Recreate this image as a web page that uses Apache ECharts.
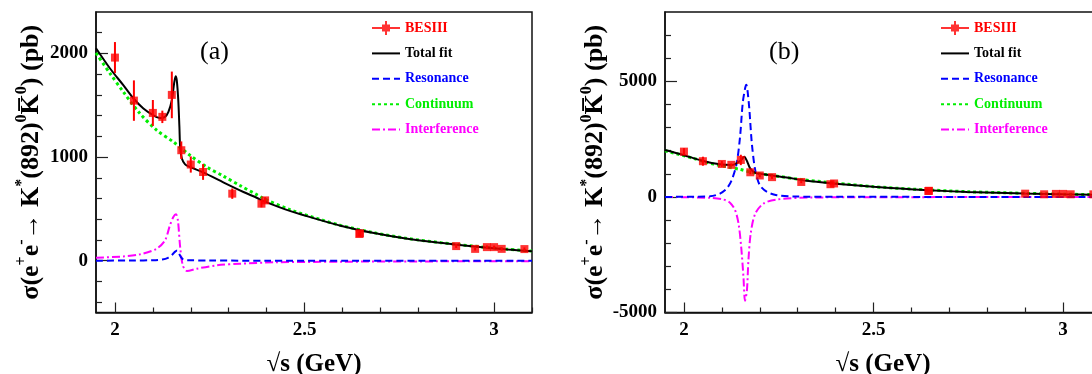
<!DOCTYPE html>
<html>
<head>
<meta charset="utf-8">
<script src="https://cdn.jsdelivr.net/npm/echarts@6/dist/echarts.min.js"></script>
<style>
  html, body { margin: 0; padding: 0; background: #fff; }
  #chart { width: 1092px; height: 374px; }
</style>
</head>
<body>
<div id="chart"></div>
<script>
// BESIII measured points (shared by both panels)
const besX = [2.0, 2.05, 2.1, 2.125, 2.15, 2.175, 2.2, 2.2324, 2.3094, 2.3864, 2.396, 2.6444, 2.6464, 2.9, 2.95, 2.981, 3.0, 3.02, 3.08];
const besY = [1960, 1545, 1426, 1388, 1600, 1066, 928, 856, 647, 550, 582, 258, 264, 141, 114, 131, 131, 114, 112];
const besErr = [150, 195, 125, 60, 225, 85, 78, 76, 50, 35, 30, 22, 22, 18, 16, 16, 15, 16, 16];

// panel (a) curves, [sqrt(s), sigma]
const totalA = [[1.95, 2050], [1.987, 1855], [2.022, 1694], [2.049, 1565], [2.075, 1469], [2.101, 1404], [2.119, 1378], [2.132, 1388], [2.141, 1436], [2.15, 1549], [2.156, 1710], [2.16, 1781], [2.163, 1742], [2.167, 1549], [2.17, 1291], [2.172, 1098], [2.1765, 986], [2.185, 930], [2.198, 904], [2.234, 850], [2.287, 754], [2.339, 663], [2.375, 605], [2.392, 575], [2.463, 478], [2.551, 382], [2.595, 338], [2.683, 267], [2.771, 212], [2.859, 172], [2.947, 138], [3.035, 109], [3.1, 92]];
const contA = [[1.95, 2005], [1.987, 1807], [2.022, 1629], [2.066, 1420], [2.11, 1259], [2.154, 1146], [2.198, 1017], [2.242, 904], [2.287, 814], [2.33, 725], [2.375, 635], [2.392, 600], [2.463, 490], [2.551, 387], [2.595, 341], [2.683, 270], [2.771, 215], [2.859, 174], [2.947, 140], [3.035, 110], [3.1, 93]];
const resA = [[1.95, 0], [2.05, 2], [2.1, 5], [2.125, 12], [2.14, 28], [2.15, 55], [2.158, 85], [2.164, 98], [2.169, 70], [2.174, 35], [2.18, 12], [2.19, 5], [2.25, 2], [2.4, 0], [3.1, 0]];
const intfA = [[1.95, 29], [2.022, 41], [2.066, 61], [2.11, 116], [2.132, 196], [2.145, 341], [2.154, 421], [2.161, 447], [2.166, 389], [2.172, 131], [2.179, -45], [2.19, -100], [2.216, -77], [2.269, -45], [2.33, -29], [2.419, -16], [2.595, -10], [2.8, -7], [3.1, -5]];

// panel (b) curves
const totalB = [[1.95, 2030], [1.998, 1813], [2.051, 1552], [2.095, 1409], [2.126, 1378], [2.148, 1552], [2.159, 1739], [2.167, 1522], [2.1745, 1235], [2.188, 1040], [2.219, 960], [2.271, 843], [2.324, 696], [2.4, 575], [2.5, 440], [2.57, 365], [2.645, 291], [2.747, 217], [2.9, 148], [3.0, 115], [3.1, 90]];
const contB = [[1.95, 2000], [2.025, 1670], [2.069, 1452], [2.113, 1304], [2.148, 1191], [2.183, 1043], [2.227, 943], [2.307, 757], [2.4, 600], [2.5, 445], [2.6, 340], [2.75, 225], [2.9, 155], [3.0, 120], [3.1, 93]];
const resB = [[1.95, 0], [2.03, 10], [2.069, 25], [2.095, 145], [2.113, 365], [2.126, 726], [2.139, 1452], [2.148, 2609], [2.155, 4061], [2.1613, 4700], [2.1645, 4850], [2.1673, 4650], [2.1726, 3770], [2.179, 2322], [2.188, 1161], [2.2, 509], [2.219, 217], [2.245, 74], [2.29, 20], [2.4, 5], [3.1, 0]];
const intfB = [[1.95, 0], [2.069, -40], [2.104, -113], [2.122, -261], [2.135, -578], [2.144, -1157], [2.151, -2174], [2.157, -3478], [2.161, -4491], [2.166, -4057], [2.17, -2752], [2.176, -1591], [2.188, -722], [2.21, -287], [2.245, -113], [2.333, -26], [2.6, -10], [3.1, -5]];

// axis ticks
const xMajor = [2, 2.5, 3];
const xMinor = [2.1, 2.2, 2.3, 2.4, 2.6, 2.7, 2.8, 2.9, 3.1];
const yMajorA = [0, 1000, 2000];
const yMinorA = [-400, -200, 200, 400, 600, 800, 1200, 1400, 1600, 1800, 2200];
const yMajorB = [-5000, 0, 5000];
const yMinorB = [-4000, -3000, -2000, -1000, 1000, 2000, 3000, 4000, 6000, 7000];

const legendNames = ['BESIII', 'Total fit', 'Resonance', 'Continuum', 'Interference'];
const legendColors = ['#ff0000', '#000000', '#0000ff', '#00ee00', '#ff00ff'];

const FONT = "'Liberation Serif', 'DejaVu Serif', serif";
const chart = echarts.init(document.getElementById('chart'));

const grids = [
  { left: 96, top: 12, width: 436, height: 300.5 },
  { left: 665, top: 12, width: 436, height: 300.5 }
];

const tickLabel = { fontFamily: FONT, fontWeight: 'bold', fontSize: 19, color: '#000', formatter: v => String(v) };
const tickLine = { color: '#222', width: 1.2 };

function xAxes(gi) {
  const base = {
    gridIndex: gi, type: 'value', min: 1.95, max: 3.1, position: 'bottom',
    splitLine: { show: false }
  };
  return [
    Object.assign({}, base, {
      name: '√s (GeV)', nameLocation: 'middle', nameGap: 40,
      nameTextStyle: { fontFamily: FONT, fontWeight: 'bold', fontSize: 25, color: '#000' },
      axisLine: { show: true, onZero: false, lineStyle: { color: '#111', width: 1.5 } },
      axisTick: { show: true, inside: true, length: 10, customValues: xMajor, lineStyle: tickLine },
      axisLabel: Object.assign({ customValues: xMajor, margin: 8 }, tickLabel)
    }),
    Object.assign({}, base, {
      axisLine: { show: false, onZero: false },
      axisTick: { show: true, inside: true, length: 5, customValues: xMinor, lineStyle: tickLine },
      axisLabel: { show: false }
    })
  ];
}

const yTitle = '{m|σ(e}{s|+}{m|e}{s|-}{m|→ K}{s|*}{m|(892)}{s|0}{m|K\u0305}{s|0}{m|) (pb)}';
const yRich = {
  m: { fontFamily: FONT, fontWeight: 'bold', fontSize: 26, lineHeight: 34, color: '#000' },
  s: { fontFamily: FONT, fontWeight: 'bold', fontSize: 16, lineHeight: 18, verticalAlign: 'top', color: '#000' }
};

function yAxes(gi, min, max, major, minor, gap) {
  const base = {
    gridIndex: gi, type: 'value', min: min, max: max, position: 'left',
    splitLine: { show: false }
  };
  return [
    Object.assign({}, base, {
      name: yTitle, nameLocation: 'middle', nameRotate: 90, nameGap: gap,
      nameTextStyle: { rich: yRich },
      axisLine: { show: true, onZero: false, lineStyle: { color: '#111', width: 1.5 } },
      axisTick: { show: true, inside: true, length: 12, customValues: major, lineStyle: tickLine },
      axisLabel: Object.assign({ customValues: major, margin: 8 }, tickLabel)
    }),
    Object.assign({}, base, {
      axisLine: { show: false, onZero: false },
      axisTick: { show: true, inside: true, length: 6, customValues: minor, lineStyle: tickLine },
      axisLabel: { show: false }
    })
  ];
}

const besData = besX.map((x, i) => [x, besY[i], besErr[i]]);

function panelSeries(gi, total, cont, res, intf) {
  const xi = gi * 2, yi = gi * 2;
  const line = (name, data, color, type, width, z) => ({
    name: name, type: 'line', xAxisIndex: xi, yAxisIndex: yi, data: data,
    symbol: 'none', smooth: 0.3, z: z,
    lineStyle: { color: color, type: type, width: width },
    itemStyle: { color: color }
  });
  return [
    line('Interference', intf, '#ff00ff', [8, 3, 2, 3], 2, 3),
    line('Resonance', res, '#0000ff', [7, 4], 2, 4),
    line('Continuum', cont, '#00ee00', [3, 3], 3, 5),
    line('Total fit', total, '#000000', 'solid', 2, 6),
    {
      type: 'custom', xAxisIndex: xi, yAxisIndex: yi, data: besData, z: 7,
      encode: { x: 0, y: 1 },
      renderItem: (params, api) => {
        const top = api.coord([api.value(0), api.value(1) + api.value(2)]);
        const bot = api.coord([api.value(0), api.value(1) - api.value(2)]);
        return { type: 'line', shape: { x1: top[0], y1: top[1], x2: bot[0], y2: bot[1] },
                 style: { stroke: '#ff0000', lineWidth: 2 } };
      }
    },
    {
      name: 'BESIII', type: 'scatter', xAxisIndex: xi, yAxisIndex: yi, z: 8,
      data: besData.map(d => [d[0], d[1]]), symbol: 'rect', symbolSize: 8,
      itemStyle: { color: '#ff0000' }
    }
  ];
}

const besIcon = 'path://M0,6h28v2h-28z M13,0h2v14h-2z M10,3.5h8v7h-8z';
function legend(left) {
  return {
    orient: 'vertical', left: left, top: 21, padding: 0,
    itemWidth: 28, itemHeight: 14, itemGap: 11.4,
    selectedMode: false,
    textStyle: { fontFamily: FONT, fontWeight: 'bold', fontSize: 14 },
    data: legendNames.map((n, i) => i === 0
      ? { name: n, icon: besIcon, textStyle: { color: legendColors[i] } }
      : { name: n, textStyle: { color: legendColors[i] }, itemStyle: { opacity: 0 } })
  };
}

chart.setOption({
  animation: false,
  backgroundColor: '#fff',
  grid: grids.map(g => Object.assign({
    show: true, borderColor: '#111', borderWidth: 1.5, backgroundColor: 'transparent',
    outerBoundsMode: 'none', containLabel: false
  }, g)),
  xAxis: xAxes(0).concat(xAxes(1)),
  yAxis: yAxes(0, -500, 2400, yMajorA, yMinorA, 48).concat(yAxes(1, -5000, 8000, yMajorB, yMinorB, 52)),
  legend: [legend(371), legend(940)],
  graphic: [
    { type: 'text', left: 200, top: 39, style: { text: '(a)', font: "26px 'Liberation Serif'", fill: '#000' } },
    { type: 'text', left: 769, top: 39, style: { text: '(b)', font: "26px 'Liberation Serif'", fill: '#000' } }
  ],
  series: panelSeries(0, totalA, contA, resA, intfA).concat(panelSeries(1, totalB, contB, resB, intfB))
});
</script>
</body>
</html>
